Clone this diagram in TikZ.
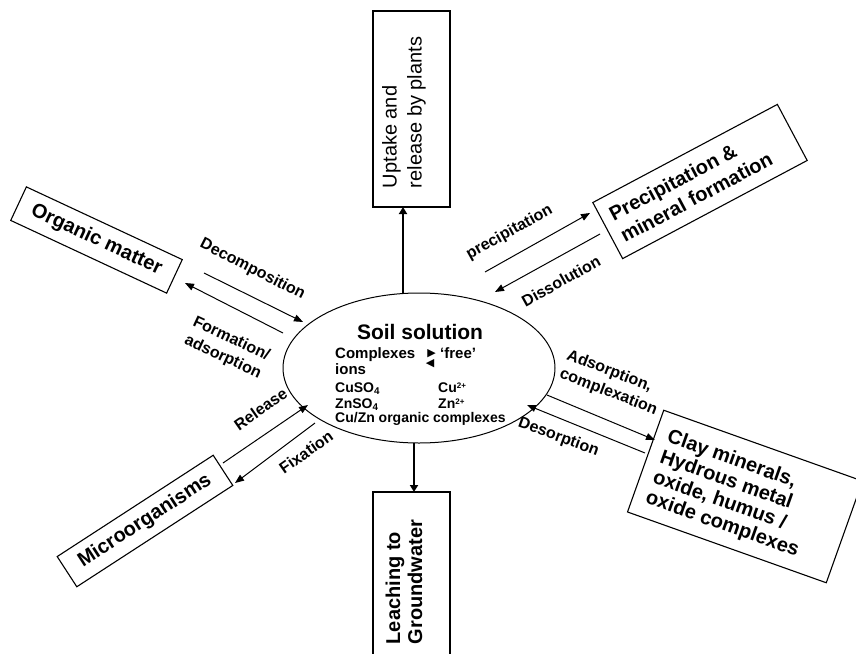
\documentclass[tikz,border=0pt]{standalone}
\usepackage{fontspec}
\setmainfont{Liberation Sans}
\newfontfamily\tripfont{DejaVu Sans}
\usetikzlibrary{arrows.meta,shapes.geometric}
\newcommand{\tinysup}[1]{\raisebox{0.5ex}{\fontsize{8}{8}\selectfont #1}}
\begin{document}
\begin{tikzpicture}[x=1pt,y=-1pt,
  frame/.style={draw, line width=1.1pt, inner sep=0pt},
  boxtext/.style={font=\bfseries\fontsize{20}{24}\selectfont, align=left, inner sep=0pt},
  lab/.style={font=\bfseries\fontsize{16}{20}\selectfont, align=left, inner sep=0pt},
  soiltext/.style={font=\bfseries\fontsize{14}{16}\selectfont, inner sep=0pt, anchor=base west},
  soilbig/.style={soiltext, font=\bfseries\fontsize{15}{17}\selectfont},
  tri/.style={font=\tripfont\fontsize{11}{12}\selectfont, inner sep=0pt, anchor=center},
  arr/.style={line width=1pt, -{Triangle[length=9pt,width=7pt]}},
  bigarr/.style={line width=2.2pt, -{Triangle[length=7pt,width=8pt]}},
]
\useasboundingbox (0,0) rectangle (856,653);
\fill[white] (0,0) rectangle (856,653);
\clip (0,0) rectangle (856,653);

% central ellipse
\node[draw, ellipse, line width=1pt, minimum width=272pt, minimum height=150pt, inner sep=0pt] (soil) at (419,368) {};
\node[font=\bfseries\fontsize{21}{24}\selectfont, inner sep=0pt, anchor=base] (stitle) at (420,339.7) {Soil solution};
\node[soilbig] (scomp) at (335,358) {Complexes};
\node[tri] (sright) at (431.5,353.5) {▶};
\node[soilbig] (sfree) at (440,358) {‘free’};
\node[tri] (sleft) at (430,363.5) {◀};
\node[soilbig] (sions) at (335,374.7) {ions};
\node[soiltext] (scus) at (335,392) {CuSO\textsubscript{4}};
\node[soiltext] (scu) at (438,392) {Cu\tinysup{2+}};
\node[soiltext] (szns) at (335,408) {ZnSO\textsubscript{4}};
\node[soiltext] (szn) at (438,408) {Zn\tinysup{2+}};
\node[soiltext] (sorg) at (335,422) {Cu/Zn organic complexes};

% boxes
\node[frame, minimum width=77pt, minimum height=196pt] (up) at (411.5,109) {};
\node[boxtext, font=\fontsize{20}{25}\selectfont, rotate=90] (upt) at (404,112.5) {Uptake and\\release by plants};

\node[frame, minimum width=77pt, minimum height=196pt] (leach) at (411.5,590) {};
\node[boxtext, font=\bfseries\fontsize{20}{22}\selectfont, rotate=90] (leacht) at (404,582) {Leaching to\\Groundwater};

\node[frame, rotate=-25, minimum width=172pt, minimum height=37pt] (om) at (96.5,240) {};
\node[boxtext, rotate=-25] (omt) at (96.5,240) {Organic matter};

\node[frame, rotate=28, minimum width=209pt, minimum height=63.5pt] (pf) at (700,181.5) {};
\node[boxtext, rotate=28] (pft) at (690.7,186.4) {Precipitation \&\\mineral formation};

\node[frame, rotate=-19.6, minimum width=211pt, minimum height=108pt] (clay) at (745,496.5) {};
\node[boxtext, font=\bfseries\fontsize{20}{21.5}\selectfont, rotate=-19.6] (clayt) at (733,494.4) {Clay minerals,\\Hydrous metal\\oxide, humus /\\oxide complexes};

\node[frame, rotate=33, minimum width=186pt, minimum height=36pt] (micro) at (145,521) {};
\node[boxtext, rotate=33] (microt) at (145,521) {Microorganisms};

% arrow labels
\node[lab, rotate=-27] (ldec) at (252.5,269.5) {Decomposition};
\node[lab, rotate=-25] (lform) at (227,348) {Formation/\\adsorption};
\node[lab, rotate=29] (lprec) at (509.5,232.5) {precipitation};
\node[lab, rotate=29] (ldiss) at (561,281) {Dissolution};
\node[lab, rotate=-21] (lads) at (612,383) {Adsorption,\\complexation};
\node[lab, rotate=-20] (ldes) at (558.5,437.5) {Desorption};
\node[lab, rotate=35] (lrel) at (260.5,409) {Release};
\node[lab, rotate=35] (lfix) at (306,452) {Fixation};

% connector end points
\coordinate (decS) at (204,273);  \coordinate (decE) at (303,322);
\coordinate (forS) at (283,333);  \coordinate (forE) at (185,283);
\coordinate (preS) at (485,272);  \coordinate (preE) at (590,213);
\coordinate (disS) at (600,234);  \coordinate (disE) at (495,292);
\coordinate (adsS) at (547,395);  \coordinate (adsE) at (655,440);
\coordinate (desS) at (645,453);  \coordinate (desE) at (527,405);
\coordinate (relS) at (223,463);  \coordinate (relE) at (308,405);
\coordinate (fixS) at (315,423);  \coordinate (fixE) at (235,483);
\coordinate (upS) at (403,293.5); \coordinate (upE) at (403,207);
\coordinate (dnS) at (414,443);   \coordinate (dnE) at (414,492);

\draw[arr] (decS) -- (decE);
\draw[arr] (forS) -- (forE);
\draw[arr] (preS) -- (preE);
\draw[arr] (disS) -- (disE);
\draw[arr] (adsS) -- (adsE);
\draw[arr] (desS) -- (desE);
\draw[arr] (relS) -- (relE);
\draw[arr] (fixS) -- (fixE);
\draw[bigarr] (upS) -- (upE);
\draw[bigarr] (dnS) -- (dnE);
\end{tikzpicture}
\end{document}
